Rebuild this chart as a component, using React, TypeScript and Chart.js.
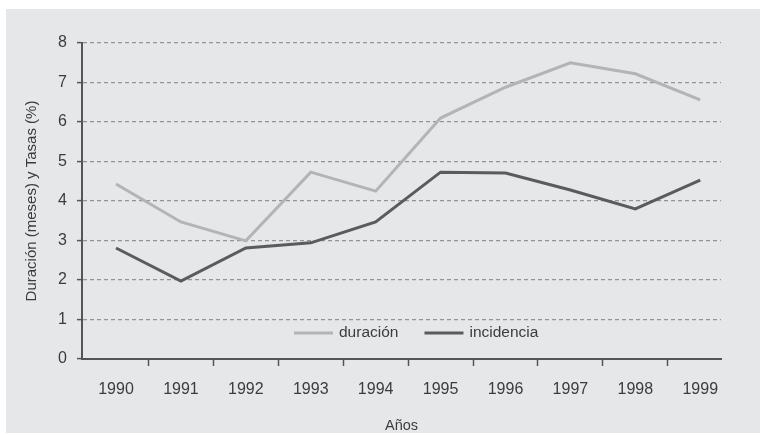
import React, { useEffect, useRef } from "react";
import { Chart, registerables } from "chart.js";

Chart.register(...registerables);

const years = [1990, 1991, 1992, 1993, 1994, 1995, 1996, 1997, 1998, 1999];
const duracion = [4.43, 3.47, 2.99, 4.73, 4.25, 6.1, 6.88, 7.5, 7.22, 6.56];
const incidencia = [2.81, 1.97, 2.81, 2.94, 3.47, 4.73, 4.71, 4.28, 3.8, 4.53];
const seriesLabels = ["duración", "incidencia"];
const yTicks = [0, 1, 2, 3, 4, 5, 6, 7, 8];
const xTitle = "Años";
const yTitle = "Duración (meses) y Tasas (%)";

const FONT = "'Liberation Sans', Arial, sans-serif";
const TEXT = "#3c3c3c";
const AXIS = "#555555";

const bgPlugin = {
  id: "bgPanel",
  beforeDraw(chart: any) {
    const { ctx, width, height } = chart;
    ctx.save();
    ctx.fillStyle = "#ffffff";
    ctx.fillRect(0, 0, width, height);
    ctx.fillStyle = "#e6e7e9";
    ctx.fillRect(6, 9, width - 6, height - 11);
    ctx.restore();
  },
};

const legendPlugin = {
  id: "innerLegend",
  afterDatasetsDraw(chart: any) {
    const { ctx, chartArea } = chart;
    const y = chartArea.bottom - 26;
    let x = chartArea.left + 212;
    ctx.save();
    ctx.font = `15.5px ${FONT}`;
    ctx.textBaseline = "middle";
    ctx.textAlign = "left";
    chart.data.datasets.forEach((ds: any) => {
      ctx.strokeStyle = ds.borderColor;
      ctx.lineWidth = 3;
      ctx.beginPath();
      ctx.moveTo(x, y);
      ctx.lineTo(x + 39, y);
      ctx.stroke();
      ctx.fillStyle = TEXT;
      ctx.fillText(ds.label, x + 45, y);
      const w = ctx.measureText(ds.label).width;
      x += 45 + w + 26;
    });
    ctx.restore();
  },
};

export default function App() {
  const ref = useRef<HTMLCanvasElement>(null);

  useEffect(() => {
    if (!ref.current) return;
    const chart = new Chart(ref.current, {
      type: "line",
      data: {
        datasets: [
          {
            label: seriesLabels[0],
            data: years.map((yr, i) => ({ x: yr, y: duracion[i] })),
            borderColor: "#b4b4b4",
            backgroundColor: "#b4b4b4",
            borderWidth: 3,
            pointRadius: 0,
            tension: 0,
          },
          {
            label: seriesLabels[1],
            data: years.map((yr, i) => ({ x: yr, y: incidencia[i] })),
            borderColor: "#5b5b5d",
            backgroundColor: "#5b5b5d",
            borderWidth: 3,
            pointRadius: 0,
            tension: 0,
          },
        ],
      },
      options: {
        responsive: false,
        animation: false,
        events: [],
        layout: { padding: { left: 0, top: 43, right: 39, bottom: 0 } },
        plugins: {
          legend: { display: false },
          tooltip: { enabled: false },
        },
        scales: {
          x: {
            type: "linear",
            min: 1989.476,
            max: 1999.32,
            afterBuildTicks: (scale: any) => {
              const t: any[] = [];
              years.forEach((yr, i) => {
                t.push({ value: yr });
                if (i < years.length - 1) t.push({ value: yr + 0.5 });
              });
              scale.ticks = t;
            },
            afterFit: (scale: any) => {
              scale.height = 76;
            },
            grid: {
              display: true,
              drawOnChartArea: false,
              drawTicks: true,
              tickLength: 7,
              tickWidth: 1.5,
              tickColor: (c: any) =>
                c.tick && Number.isInteger(c.tick.value) ? "rgba(0,0,0,0)" : AXIS,
            },
            border: { display: true, color: AXIS, width: 2 },
            ticks: {
              autoSkip: false,
              maxRotation: 0,
              padding: 14,
              color: TEXT,
              font: { family: FONT, size: 16 },
              callback: (v: any) => (Number.isInteger(v) ? String(v) : ""),
            },
            title: {
              display: true,
              text: xTitle,
              color: TEXT,
              font: { family: FONT, size: 14.5 },
              padding: { top: 0, bottom: 0 },
            },
          },
          y: {
            min: yTicks[0],
            max: yTicks[yTicks.length - 1],
            afterBuildTicks: (scale: any) => {
              scale.ticks = yTicks.map((v) => ({ value: v }));
            },
            afterFit: (scale: any) => {
              scale.width = 82;
            },
            grid: {
              color: "#949494",
              lineWidth: 1.2,
              drawTicks: true,
              tickLength: 5,
              tickColor: AXIS,
              tickWidth: 1.5,
              tickBorderDash: [],
            },
            border: { display: true, color: AXIS, width: 2, dash: [4, 3] },
            ticks: {
              padding: 10,
              color: TEXT,
              font: { family: FONT, size: 16 },
              callback: (v: any) => String(v),
            },
            title: {
              display: true,
              text: yTitle,
              color: TEXT,
              font: { family: FONT, size: 15 },
              padding: { top: 23, bottom: 0 },
            },
          },
        },
      },
      plugins: [bgPlugin, legendPlugin],
    } as any);
    return () => chart.destroy();
  }, []);

  return (
    <div style={{ position: "fixed", left: 0, top: 0, width: 760, height: 435 }}>
      <canvas ref={ref} width={760} height={435} style={{ width: 760, height: 435, display: "block" }} />
    </div>
  );
}
